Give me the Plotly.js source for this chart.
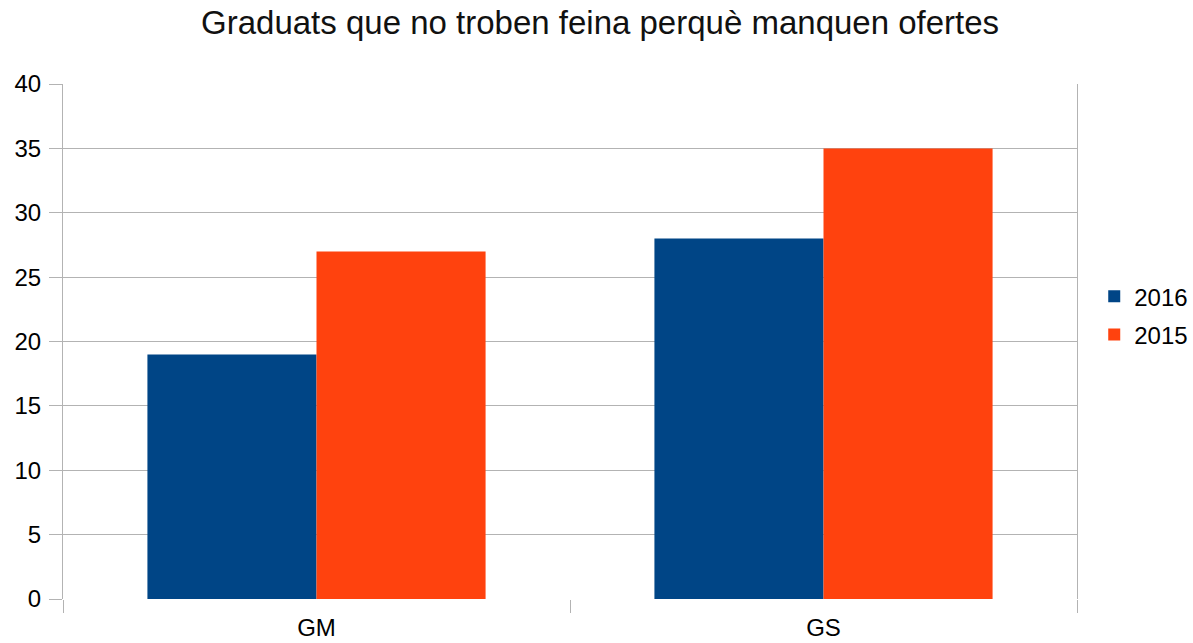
<!DOCTYPE html>
<html>
<head>
<meta charset="utf-8">
<script src="https://cdn.plot.ly/plotly-3.0.1.min.js"></script>
<style>html,body{margin:0;padding:0;background:#fff;}#chart{width:1193px;height:643px;}</style>
</head>
<body>
<div id="chart"></div>
<script>
const chartTitle = "Graduats que no troben feina perquè manquen ofertes";
const categories = ["GM", "GS"];
const seriesNames = ["2016", "2015"];
const values2016 = [19, 28];
const values2015 = [27, 35];
const yTicks = [0, 5, 10, 15, 20, 25, 30, 35, 40];

const font = "Liberation Sans, Arial, sans-serif";
const traces = [
  {type: "bar", name: seriesNames[0], x: categories, y: values2016, marker: {color: "#004586"}, legendgroup: "a"},
  {type: "bar", name: seriesNames[1], x: categories, y: values2015, marker: {color: "#ff420e"}, legendgroup: "b"}
];
const layout = {
  width: 1193, height: 643,
  paper_bgcolor: "#fff", plot_bgcolor: "#fff",
  margin: {l: 63, r: 116, t: 84, b: 44, pad: 0, autoexpand: false},
  font: {family: font, size: 24, color: "#000"},
  title: {text: chartTitle, font: {family: font, size: 33, color: "#111"}, x: 0.503, xanchor: "center", y: 0.965, yanchor: "middle"},
  barmode: "group", bargap: 0.333, bargroupgap: 0,
  xaxis: {
    type: "category", showgrid: false, tickson: "boundaries", automargin: false,
    ticks: "outside", ticklen: 13, tickcolor: "#b3b3b3", tickwidth: 1,
    showline: false, zeroline: false, ticklabelstandoff: 12,
    tickfont: {family: font, size: 24, color: "#000"}, fixedrange: true
  },
  yaxis: {
    range: [0, 40], tickvals: yTicks, showgrid: true, gridcolor: "#b3b3b3", gridwidth: 1,
    showline: true, linecolor: "#b3b3b3", linewidth: 1, mirror: true, automargin: false,
    ticks: "outside", ticklen: 13, tickcolor: "#b3b3b3", tickwidth: 1,
    zeroline: false, ticklabelstandoff: 3,
    tickfont: {family: font, size: 24, color: "#000"}, fixedrange: true
  },
  showlegend: true,
  legend: {x: 1.017, xanchor: "left", y: 0.55, yanchor: "middle", tracegroupgap: 4,
    font: {family: font, size: 24, color: "#000"}, bgcolor: "rgba(0,0,0,0)"}
};
Plotly.newPlot("chart", traces, layout, {displayModeBar: false, staticPlot: true});
</script>
</body>
</html>
